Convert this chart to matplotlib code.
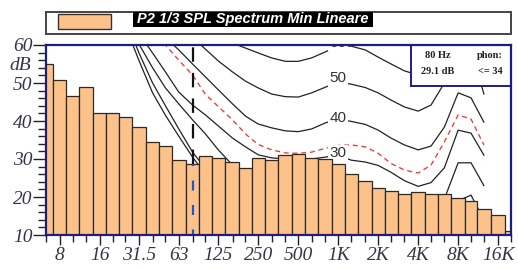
import matplotlib
matplotlib.use('Agg')
import matplotlib.pyplot as plt
from matplotlib.patches import Rectangle
from matplotlib.ticker import MultipleLocator, NullFormatter
import numpy as np

# ---------------- data ----------------
band_freqs = [6.3, 8, 10, 12.5, 16, 20, 25, 31.5, 40, 50, 63, 80, 100, 125, 160, 200,
              250, 315, 400, 500, 630, 800, 1000, 1250, 1600, 2000, 2500, 3150, 4000,
              5000, 6300, 8000, 10000, 12500, 16000, 20000]
spl_db = [55.0, 50.8, 46.6, 48.9, 42.0, 42.0, 41.0, 38.5, 34.6, 33.3, 29.7, 28.6, 30.7,
          30.3, 29.3, 27.7, 30.3, 29.7, 31.1, 31.4, 30.3, 30.0, 28.8, 26.1, 24.2, 22.4,
          21.6, 20.9, 21.2, 20.9, 20.9, 19.8, 18.9, 16.8, 15.3, 11.1]

tick_freqs = [8, 16, 31.5, 63, 125, 250, 500, 1000, 2000, 4000, 8000, 16000]
tick_labels = ['8', '16', '31.5', '63', '125', '250', '500', '1K', '2K', '4K', '8K', '16K']

contour_freqs = [25, 31.5, 40, 50, 63, 80, 100, 125, 160, 200, 250, 315, 400, 500, 630,
                 800, 1000, 1250, 1600, 2000, 2500, 3150, 4000, 5000, 6300, 8000, 10000, 12500]
phon_0 = [65, 56.0, 47.4, 41.5, 36.0, 30.5, 26.0, 22.0, 18.5, 15.5, 13.0, 10.5, 8.5, 7.0, 6.0,
          5.5, 5.0, 5.0, 4.5, 3.0, 1.0, 0.0, 0.0, 1.0, 5.0, 10.0, 11.0, 6.0]
phon_10 = [67, 58.0, 50.0, 44.0, 37.9, 31.8, 27.5, 24.0, 21.0, 19.0, 17.0, 15.0, 13.5, 12.5, 12.0,
           11.5, 11.0, 11.0, 10.5, 9.5, 8.0, 7.0, 6.5, 7.5, 11.0, 19.0, 20.5, 14.0]
phon_20 = [72, 60.3, 54.0, 48.7, 44.5, 40.3, 36.6, 32.4, 28.4, 25.5, 23.5, 22.0, 21.0, 20.5, 20.5,
           20.5, 21.0, 20.5, 20.0, 19.0, 17.0, 15.0, 14.0, 15.0, 19.5, 29.0, 29.0, 23.0]
phon_30 = [75, 63.0, 57.9, 52.9, 47.6, 44.2, 41.6, 38.7, 35.5, 33.2, 31.1, 30.3, 30.0, 30.0, 30.0,
           30.5, 31.0, 29.7, 29.2, 28.3, 26.5, 24.3, 22.8, 23.8, 27.7, 37.6, 36.8, 31.0]
phon_34 = [78, 70.0, 64.0, 60.0, 56.0, 52.1, 47.0, 43.8, 40.3, 36.6, 33.8, 32.4, 31.6, 31.5, 31.8,
           32.8, 33.6, 33.7, 33.2, 31.5, 28.8, 27.1, 26.3, 28.4, 34.5, 41.6, 40.5, 33.7]
phon_40 = [82, 74.0, 67.0, 62.0, 58.7, 55.0, 51.6, 48.2, 44.5, 41.3, 39.2, 38.2, 37.4, 37.2, 37.9,
           39.5, 40.5, 39.9, 39.1, 37.6, 35.5, 33.7, 32.4, 33.4, 38.4, 47.4, 46.1, 39.7]
phon_50 = [88, 82.0, 76.0, 70.0, 66.0, 62.0, 58.9, 55.8, 52.9, 50.5, 48.7, 47.1, 46.4, 46.3, 47.4,
           48.9, 50.3, 49.7, 48.8, 47.4, 45.5, 43.7, 42.6, 44.2, 50.0, 57.4, 59.2, 47.1]
phon_60 = [98, 92.0, 86.0, 80.0, 75.0, 70.0, 66.0, 63.0, 60.5, 59.2, 57.9, 56.6, 55.7, 55.7, 56.6,
           58.2, 59.7, 59.7, 58.7, 56.8, 55.0, 53.2, 52.1, 53.4, 58.0, 66.0, 69.0, 58.0]
solid_contours = [phon_0, phon_10, phon_20, phon_30, phon_40, phon_50, phon_60]

label_texts = ['60', '50', '40', '30']
label_db = [60.6, 51.2, 40.8, 31.6]
label_freq = 1000

marker_freq = 80
marker_db = 28.6
legend_text = 'P2 1/3 SPL Spectrum Min Lineare'
info_freq_text = '80 Hz'
info_db_text = '29.1 dB'
info_phon_title = 'phon:'
info_phon_text = '<= 34'

# ---------------- figure ----------------
W, H = 518, 270
fig = plt.figure(figsize=(W / 100, H / 100), dpi=100)
fig.patch.set_facecolor('white')

def fx(px):
    return px / W

def fy(py):
    return 1 - py / H

ax = fig.add_axes([fx(46), fy(235), 465 / W, 190 / H])
ax.set_xscale('log')

navy = '#1c1c86'

# contours (behind bars)
for c in solid_contours:
    ax.plot(contour_freqs, c, color='#222222', lw=0.9, zorder=2, solid_joinstyle='miter')
ax.plot(contour_freqs, phon_34, color='#ff2a2a', lw=0.9, zorder=2, linestyle=(0, (4, 3)))

for t, d in zip(label_texts, label_db):
    ax.text(label_freq, d, t, ha='center', va='center', fontsize=11,
            family='Liberation Sans', color='#333333', zorder=2.5, clip_on=True,
            bbox=dict(facecolor='white', edgecolor='none', pad=1.0))

# bars
f = np.array(band_freqs, dtype=float)
mids = np.sqrt(f[:-1] * f[1:])
left = np.concatenate([[f[0] * np.sqrt(f[0] / f[1])], mids])
right = np.concatenate([mids, [f[-1] * np.sqrt(f[-1] / f[-2])]])
vals = np.array(spl_db)
ax.bar(left, vals - 10, bottom=10, width=right - left, align='edge',
       color='#FCC28A', edgecolor='#2a2a2a', linewidth=0.9, zorder=3)

# cursor line at 80 Hz
ax.plot([marker_freq, marker_freq], [marker_db, 60], color='#111111', lw=1.6,
        linestyle=(0, (6.5, 5)), zorder=4, clip_on=True)
ax.plot([marker_freq, marker_freq], [10, marker_db], color='#2255cc', lw=1.6,
        linestyle=(2, (4.5, 6.5)), zorder=4)

ax.set_xlim(6.3, 20000)
ax.set_ylim(10, 60)

ax.set_xticks(tick_freqs)
ax.set_xticklabels(tick_labels)
ax.set_xticks(band_freqs, minor=True)
ax.xaxis.set_minor_formatter(NullFormatter())
ax.set_yticks([10, 20, 30, 40, 50, 60])
ax.yaxis.set_minor_locator(MultipleLocator(2))

for lab in ax.get_xticklabels() + ax.get_yticklabels():
    lab.set_fontfamily('Liberation Serif')
    lab.set_fontstyle('italic')
    lab.set_fontsize(14)
    lab.set_color('#35354a')

ax.tick_params(axis='x', which='major', length=7.2, width=1.0, pad=1.5, color='#222222')
ax.tick_params(axis='x', which='minor', length=4.8, width=1.0, color='#222222')
ax.tick_params(axis='y', which='major', length=9.2, width=1.0, pad=0.5, color='#222222')
ax.tick_params(axis='y', which='minor', length=5.5, width=1.0, color='#222222')

for s in ax.spines.values():
    s.set_color(navy)
    s.set_linewidth(1.6)
    s.set_zorder(6)

# dB label
fig.text(fx(20), fy(65), 'dB', ha='center', va='center', fontsize=14,
         family='Liberation Serif', style='italic', color='#35354a')

# info box
ax.add_patch(Rectangle((0.784, 0.784), 0.216, 0.216, transform=ax.transAxes,
                       facecolor='white', edgecolor=navy, lw=1.4, zorder=5, clip_on=False))
info_font = dict(family='Liberation Serif', fontweight='bold', fontsize=7.5, color='#222222',
                 ha='center', va='center', zorder=7)
ax.text((438 - 46) / 465, (235 - 55) / 190, info_freq_text, transform=ax.transAxes, **info_font)
ax.text((490 - 46) / 465, (235 - 55) / 190, info_phon_title, transform=ax.transAxes, **info_font)
ax.text((438 - 46) / 465, (235 - 71) / 190, info_db_text, transform=ax.transAxes, **info_font)
ax.text((490 - 46) / 465, (235 - 71) / 190, info_phon_text, transform=ax.transAxes, **info_font)

# legend frame at top
fig.add_artist(Rectangle((fx(46), fy(34)), 465 / W, 22 / H, transform=fig.transFigure,
                         facecolor='white', edgecolor='#444444', lw=1.4))
fig.add_artist(Rectangle((fx(58), fy(29)), 53 / W, 15 / H, transform=fig.transFigure,
                         facecolor='#FCC28A', edgecolor='#333333', lw=1.0))
fig.add_artist(Rectangle((fx(133), fy(27)), 240 / W, 15 / H, transform=fig.transFigure,
                         facecolor='black', edgecolor='none'))
fig.text(fx(253), fy(19.5), legend_text, ha='center', va='center', color='white',
         fontsize=10.5, fontweight='bold', style='italic', family='Liberation Sans')

fig.savefig('out.png', dpi=100, facecolor='white')
